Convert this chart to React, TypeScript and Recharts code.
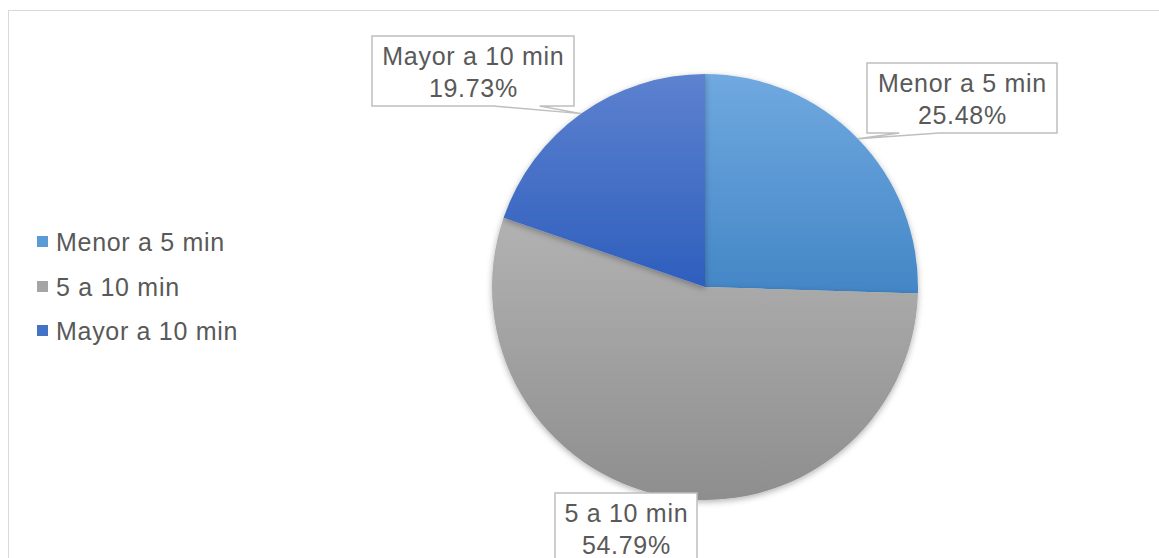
import React from 'react';
import { PieChart, Pie, Cell } from 'recharts';

const categories = ['Menor a 5 min', '5 a 10 min', 'Mayor a 10 min'];
const shares = [25.48, 54.79, 19.73];

const colors = ['#5b9bd5', '#a5a5a5', '#4472c4'];
const gradients = [
  ['#70a9e0', '#4386c6'],
  ['#b2b2b2', '#8e8e8e'],
  ['#5d82cf', '#2e5ebd'],
];

// callout boxes, placed relative to the pie centre
const labelBoxes = [
  { dx: 257, dy: -189, w: 190 },
  { dx: -79, dy: 241, w: 142 },
  { dx: -232, dy: -216, w: 202 },
];

const data = categories.map((name, i) => ({ name, value: shares[i] }));

const RADIAN = Math.PI / 180;
const BOX_H = 70;
const FONT = 'Liberation Sans, Arial, sans-serif';
const textStyle = { fontFamily: FONT, fontSize: 25, letterSpacing: 0.7 };

const renderLabel = (props: any) => {
  const { cx, cy, midAngle, outerRadius, index, name, value } = props;
  const box = labelBoxes[index];
  const bx = cx + box.dx - box.w / 2;
  const by = cy + box.dy - BOX_H / 2;
  const bottom = by + BOX_H;
  const ex = cx + outerRadius * Math.cos(-midAngle * RADIAN);
  const ey = cy + outerRadius * Math.sin(-midAngle * RADIAN);
  const inside = ex >= bx && ex <= bx + box.w && ey >= by && ey <= bottom;

  let d: string;
  if (inside) {
    d = `M${bx},${by}H${bx + box.w}V${bottom}H${bx}Z`;
  } else {
    const onRight = ex > bx + box.w / 2;
    const p1 = bx + box.w * (onRight ? 0.6 : 0.17);
    const p2 = bx + box.w * (onRight ? 0.83 : 0.38);
    d = `M${bx},${by}H${bx + box.w}V${bottom}H${p2}L${ex},${ey}L${p1},${bottom}H${bx}Z`;
  }
  const tx = bx + box.w / 2 + 0.4;
  return (
    <g key={`lbl-${index}`}>
      <path d={d} fill="#fff" stroke="#bfbfbf" strokeWidth={1.5} />
      <text x={tx} y={by + 29} textAnchor="middle" fill="#595959" style={textStyle}>
        {name}
      </text>
      <text x={tx} y={by + 61} textAnchor="middle" fill="#595959" style={textStyle}>
        {`${Number(value).toFixed(2)}%`}
      </text>
    </g>
  );
};

const ChartLegend = () => (
  <div
    style={{
      position: 'absolute', left: 37, top: 220, fontFamily: FONT, fontSize: 25,
      letterSpacing: 0.7, color: '#595959',
    }}
  >
    {categories.map((c, i) => (
      <div key={c} style={{ height: 44.5, lineHeight: '44.5px', position: 'relative', paddingLeft: 19, whiteSpace: 'nowrap' }}>
        <span style={{ position: 'absolute', left: 0, top: 16, width: 11, height: 11, background: colors[i] }} />
        {c}
      </div>
    ))}
  </div>
);

export default function App() {
  return (
    <div style={{ position: 'relative', width: 1159, height: 558, overflow: 'hidden', background: '#fff' }}>
      <style>{'body{margin:0;overflow:hidden}'}</style>
      <div style={{ position: 'absolute', left: 8, top: 10, width: 1200, height: 600, border: '1px solid #d9d9d9' }} />
      <div style={{ position: 'absolute', left: 0, top: 0 }}>
        <PieChart width={1159} height={558} margin={{ top: 0, right: 0, bottom: 0, left: 0 }}>
          <defs>
            {gradients.map((g, i) => (
              <linearGradient key={i} id={`grad-${i}`} x1="0" y1="0" x2="0" y2="1">
                <stop offset="0%" stopColor={g[0]} />
                <stop offset="100%" stopColor={g[1]} />
              </linearGradient>
            ))}
            <filter id="pieShadow" x="-20%" y="-20%" width="140%" height="140%">
              <feDropShadow dx="0" dy="2" stdDeviation="3" floodColor="#000" floodOpacity="0.3" />
            </filter>
          </defs>
          <Pie
            data={data}
            dataKey="value"
            nameKey="name"
            cx={705}
            cy={287}
            outerRadius={213}
            startAngle={90}
            endAngle={-270}
            stroke="none"
            label={renderLabel}
            labelLine={false}
            isAnimationActive={false}
            style={{ filter: 'url(#pieShadow)' }}
          >
            {data.map((entry, index) => (
              <Cell key={`cell-${index}`} fill={`url(#grad-${index})`} />
            ))}
          </Pie>
        </PieChart>
      </div>
      <ChartLegend />
    </div>
  );
}
